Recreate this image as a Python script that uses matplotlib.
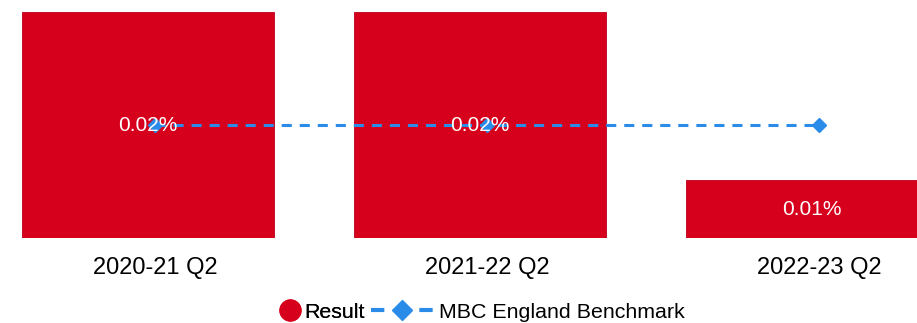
import matplotlib
matplotlib.use("Agg")
import matplotlib.pyplot as plt
from matplotlib.lines import Line2D
import numpy as np

plt.rcParams['font.family'] = ['Liberation Sans', 'DejaVu Sans']

categories = ["2020-21 Q2", "2021-22 Q2", "2022-23 Q2"]
# values in percent
result = [0.0200, 0.0200, 0.0051]
benchmark = [0.0100, 0.0100, 0.0100]

bar_color = "#D6001C"
line_color = "#2A8CE8"

fig = plt.figure(figsize=(9.17, 3.23), dpi=100)
ax = fig.add_axes([0.0, 0.263, 1.0, 0.7])

x = np.arange(len(categories))
bars = ax.bar(x - 0.021, result, width=0.76, color=bar_color,
              edgecolor="#B8001A", linewidth=0.6, zorder=2)

ax.plot(x, benchmark, color=line_color, linewidth=2.2, dashes=(3.3, 2.6),
        marker="D", markersize=7, markerfacecolor=line_color,
        markeredgecolor=line_color, zorder=3)

for rect, val in zip(bars, result):
    ax.text(rect.get_x() + rect.get_width() / 2, val / 2, f"{val:.2f}%",
            ha="center", va="center", color="white", fontsize=15, zorder=4)

ax.set_xlim(-0.467, 2.295)
ax.set_ylim(0, 0.02)
ax.set_xticks(x)
ax.set_xticklabels(categories, fontsize=17)
ax.tick_params(axis="x", length=0, pad=14)
ax.set_yticks([])
for s in ax.spines.values():
    s.set_visible(False)

h_result = Line2D([], [], linestyle="none", marker="o", markersize=15,
                  color=bar_color, label="Result")
h_bench = Line2D([], [], color=line_color, linewidth=3, dashes=(3.2, 2.6),
                 marker="D", markersize=10, label="MBC England Benchmark")

leg1 = fig.legend(handles=[h_result], loc="center left",
                  bbox_to_anchor=(0.3045, 0.034), frameon=False, fontsize=15.4,
                  handlelength=1.0, handletextpad=0.15, borderpad=0.0,
                  borderaxespad=0.0)
fig.add_artist(leg1)
fig.legend(handles=[h_bench], loc="center left",
           bbox_to_anchor=(0.405, 0.034), frameon=False, fontsize=15.4,
           handlelength=2.9, handletextpad=0.25, borderpad=0.0,
           borderaxespad=0.0)

fig.savefig("out.png", dpi=100)
